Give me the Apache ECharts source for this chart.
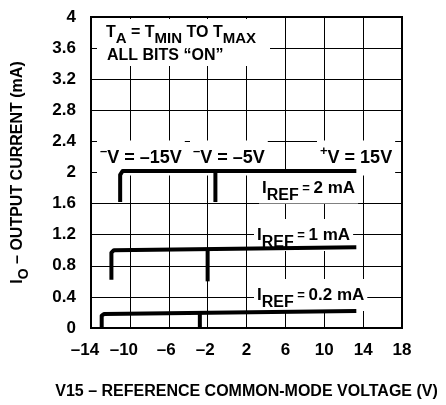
<!DOCTYPE html>
<html>
<head>
<meta charset="utf-8">
<script src="https://cdn.jsdelivr.net/npm/echarts@6/dist/echarts.min.js"></script>
<style>html,body{margin:0;padding:0;background:#fff}#c{width:446px;height:405px}</style>
</head>
<body>
<div id="c"></div>
<script>
// ---- data ----
const xTicks = [-14, -10, -6, -2, 2, 6, 10, 14, 18];
const xTickLabels = ['–14', '–10', '–6', '–2', '2', '6', '10', '14', '18'];
const yTicks = [0, 0.4, 0.8, 1.2, 1.6, 2, 2.4, 2.8, 3.2, 3.6, 4];
const yTickLabels = ['0', '0.4', '0.8', '1.2', '1.6', '2', '2.4', '2.8', '3.2', '3.6', '4'];

// I_REF = 2 mA (V- = -15V), and its dropout at V- = -5V
const iref2_x = [-11, -11, -10.75, 13.3];
const iref2_y = [1.62, 1.97, 2.02, 2.02];
const iref2Drop_x = [-1.2, -1.2];
const iref2Drop_y = [2.02, 1.62];

// I_REF = 1 mA
const iref1_x = [-11.9, -11.9, -11.65, 13.3];
const iref1_y = [0.62, 0.97, 1.0, 1.04];
const iref1Drop_x = [-2.0, -2.0];
const iref1Drop_y = [1.0, 0.6];

// I_REF = 0.2 mA
const iref02_x = [-12.9, -12.9, -12.65, 13.3];
const iref02_y = [0, 0.16, 0.18, 0.22];
const iref02Drop_x = [-2.8, -2.8];
const iref02Drop_y = [0.19, 0];

const xName = 'V15 – REFERENCE COMMON-MODE VOLTAGE (V)';
const yNameMain = 'I';
const yNameSub = 'O';
const yNameRest = ' – OUTPUT CURRENT (mA)';

// ---- chart ----
const FF = '"Liberation Sans", Arial, Helvetica, sans-serif';
const pairs = (xs, ys) => xs.map((x, i) => [x, ys[i]]);
const st = (size, extra) => Object.assign({fontSize: size, fontWeight: 'bold', fontFamily: FF, color: '#000'}, extra || {});
const richStyles = {
  m: st(16),
  t: st(15, {padding: [11, 0, 0, 0]}),
  L: st(17),
  s: st(16, {padding: [15, 0, 0, 0]}),
  e: st(13),
  V: st(18),
  p: st(13, {padding: [0, 0, 14, 0]}),
  ys: st(14, {padding: [12, 0, 0, 0]}),
  n1: st(17, {padding: [0, 12, 0, 0]}),
  n2: st(17, {padding: [0, 5, 0, 0]}),
  n0: st(17)
};
const lineSeries = (data) => ({
  type: 'line', data, showSymbol: false, symbol: 'none', animation: false,
  lineStyle: {color: '#000', width: 4, cap: 'butt', join: 'round'}, z: 5
});

const chart = echarts.init(document.getElementById('c'), null, {renderer: 'canvas'});
function txt(x, y, text, pad) {
  return {
    type: 'text', x, y, z: 1,
    style: {
      text, rich: richStyles, verticalAlign: 'middle', align: 'left',
      backgroundColor: '#fff', padding: pad || [1, 3, 1, 3]
    }
  };
}
chart.setOption({
  animation: false,
  backgroundColor: '#fff',
  grid: {left: 91, right: 44, top: 17, bottom: 74, show: true, borderColor: '#000', borderWidth: 2, backgroundColor: 'transparent'},
  xAxis: {
    type: 'value', min: -14, max: 18, interval: 4,
    axisLine: {show: true, onZero: false, lineStyle: {color: '#000', width: 2}},
    axisTick: {show: false},
    splitLine: {show: true, lineStyle: {color: '#000', width: 1}},
    axisLabel: {
      color: '#000', fontSize: 17, fontWeight: 'bold', fontFamily: FF, margin: 14, rich: richStyles,
      formatter: v => {
        const i = xTicks.indexOf(v);
        if (i < 0) return '';
        const s = v <= -10 ? 'n1' : (v < 0 ? 'n2' : 'n0');
        return '{' + s + '|' + xTickLabels[i] + '}';
      }
    },
    name: xName, nameLocation: 'middle', nameGap: 56,
    nameTextStyle: {color: '#000', fontSize: 16, fontWeight: 'bold', fontFamily: FF}
  },
  yAxis: {
    type: 'value', min: 0, max: 4, interval: 0.4,
    axisLine: {show: true, onZero: false, lineStyle: {color: '#000', width: 2}},
    axisTick: {show: false},
    splitLine: {show: true, lineStyle: {color: '#000', width: 1}},
    axisLabel: {
      color: '#000', fontSize: 17, fontWeight: 'bold', fontFamily: FF, margin: 15,
      formatter: v => { const i = yTicks.findIndex(t => Math.abs(t - v) < 1e-6); return i >= 0 ? yTickLabels[i] : ''; }
    },
    name: '{m|' + yNameMain + '}{ys|' + yNameSub + '}{m|' + yNameRest + '}',
    nameLocation: 'middle', nameGap: 60, nameRotate: 90,
    nameTextStyle: {color: '#000', fontSize: 16, fontWeight: 'bold', fontFamily: FF, rich: richStyles}
  },
  series: [
    lineSeries(pairs(iref2_x, iref2_y)),
    lineSeries(pairs(iref2Drop_x, iref2Drop_y)),
    lineSeries(pairs(iref1_x, iref1_y)),
    lineSeries(pairs(iref1Drop_x, iref1Drop_y)),
    lineSeries(pairs(iref02_x, iref02_y)),
    lineSeries(pairs(iref02Drop_x, iref02Drop_y))
  ],
  graphic: [
    {type: 'rect', z: 1, shape: {x: 97, y: 19, width: 173, height: 47}, style: {fill: '#fff'}},
    txt(106, 33, '{m|T}{t|A}{m| = T}{t|MIN}{m| TO T}{t|MAX}', [0, 0, 0, 0]),
    txt(107, 56, '{m|ALL BITS “ON”}', [0, 0, 0, 0]),
    txt(97, 158, '{p|–}{V|V = –15V}', [4, 3, 4, 3]),
    txt(190, 158, '{p|–}{V|V = –5V}', [4, 3, 4, 3]),
    txt(317, 158, '{p|+}{V|V = 15V}', [4, 3, 4, 3]),
    txt(259, 187, '{L|I}{s|REF}{e| = }{L|2 mA}', [2, 3, 0, 3]),
    txt(254, 235, '{L|I}{s|REF}{e| = }{L|1 mA}', [1, 3, 0, 3]),
    txt(254, 295, '{L|I}{s|REF}{e| = }{L|0.2 mA}', [1, 3, 0, 3])
  ]
});
</script>
</body>
</html>
